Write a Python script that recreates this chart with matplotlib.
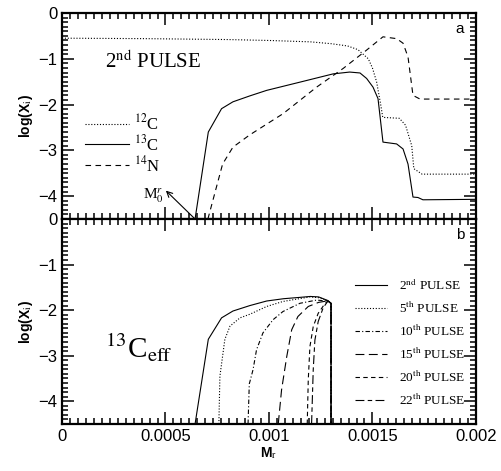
import numpy as np
import matplotlib
matplotlib.use('Agg')
import matplotlib.pyplot as plt
from matplotlib.ticker import AutoMinorLocator, FixedFormatter, FixedLocator

plt.rcParams['mathtext.fontset'] = 'stix'
plt.rcParams['font.family'] = ['Liberation Sans', 'DejaVu Sans']

# ---- panel a : 2nd pulse abundances ----
m_c12 = [0.0, 0.0004, 0.0008, 0.001, 0.0012, 0.0013, 0.00138, 0.00143, 0.00148, 0.0015,
         0.00152, 0.00154, 0.00155, 0.00163, 0.00166, 0.00169, 0.0017, 0.00174, 0.002]
x_c12 = [-0.55, -0.56, -0.58, -0.60, -0.63, -0.67, -0.72, -0.80, -1.0, -1.2,
         -1.5, -2.0, -2.28, -2.3, -2.45, -2.9, -3.4, -3.52, -3.52]

m_c13 = [0.000643, 0.000707, 0.000771, 0.000826, 0.000908, 0.000989, 0.00115, 0.00131,
         0.00139, 0.00144, 0.001472, 0.001503, 0.001527, 0.001551, 0.001617, 0.001648,
         0.001672, 0.001696, 0.00172, 0.001744, 0.002]
x_c13 = [-4.5, -2.6, -2.09, -1.94, -1.81, -1.69, -1.51, -1.33,
         -1.29, -1.31, -1.43, -1.62, -1.87, -2.82, -2.86, -2.97,
         -3.3, -4.02, -4.03, -4.08, -4.07]

m_n14 = [0.000705, 0.000776, 0.000826, 0.000908, 0.001068, 0.00123, 0.001359, 0.001472,
         0.001551, 0.001617, 0.001648, 0.001672, 0.001696, 0.00173, 0.002]
x_n14 = [-4.5, -3.3, -2.93, -2.66, -2.2, -1.62, -1.21, -0.81,
         -0.52, -0.56, -0.66, -0.96, -1.8, -1.88, -1.88]

# ---- panel b : effective 13C pocket, successive pulses ----
pulses = ['2nd', '5th', '10th', '15th', '20th', '22th']
m_p2 = [0.000643, 0.000707, 0.000771, 0.000826, 0.000908, 0.000989, 0.00107, 0.00115, 0.0012, 0.00124, 0.001285, 0.0013, 0.0013]
x_p2 = [-4.5, -2.64, -2.17, -2.02, -1.9, -1.8, -1.75, -1.72, -1.7, -1.71, -1.79, -1.85, -4.5]
m_p5 = [0.000758, 0.000763, 0.000787, 0.000812, 0.00086, 0.000908, 0.000989, 0.001068, 0.001198, 0.001246, 0.001285, 0.0013, 0.0013]
x_p5 = [-4.5, -3.45, -2.64, -2.35, -2.17, -2.09, -1.92, -1.81, -1.71, -1.73, -1.8, -1.85, -4.5]
m_p10 = [0.000899, 0.000905, 0.000923, 0.00094, 0.000971, 0.00102, 0.001068, 0.00115, 0.00123, 0.001285, 0.0013, 0.0013]
x_p10 = [-4.5, -3.62, -3.31, -2.87, -2.5, -2.21, -2.03, -1.85, -1.78, -1.8, -1.85, -4.5]
m_p15 = [0.001045, 0.001061, 0.001086, 0.00111, 0.00114, 0.00119, 0.00124, 0.00128, 0.0013, 0.0013]
x_p15 = [-4.5, -3.75, -3.02, -2.43, -2.14, -1.92, -1.83, -1.8, -1.85, -4.5]
m_p20 = [0.001185, 0.00119, 0.001198, 0.001214, 0.001238, 0.00127, 0.001285, 0.0013, 0.0013]
x_p20 = [-4.5, -3.53, -2.8, -2.36, -2.07, -1.86, -1.8, -1.85, -4.5]
m_p22 = [0.001206, 0.001214, 0.001222, 0.001238, 0.001262, 0.001285, 0.0013, 0.0013]
x_p22 = [-4.5, -3.31, -2.66, -2.25, -1.95, -1.8, -1.85, -4.5]

m_ticks = [0, 0.0005, 0.001, 0.0015, 0.002]
m_labels = ['0', '0.0005', '0.001', '0.0015', '0.002']
y_ticks = [0, -1, -2, -3, -4]
y_labels = ['0', '\u22121', '\u22122', '\u22123', '\u22124']

fig = plt.figure(figsize=(5.02, 4.71), dpi=100)
axa = fig.add_axes([0.1235, 0.535, 0.8245, 0.4374])
axb = fig.add_axes([0.1235, 0.0998, 0.8245, 0.4352])

lw = 0.8
serif = ['Liberation Serif', 'DejaVu Serif']

la, = axa.plot(m_c12, x_c12, color='k', lw=lw, ls=(0, (1, 1.6)))
lb, = axa.plot(m_c13, x_c13, color='k', lw=lw, ls='-')
lc, = axa.plot(m_n14, x_n14, color='k', lw=lw, ls=(0, (5, 4)))
axa.legend([la, lb, lc], ['$^{12}$C', '$^{13}$C', '$^{14}$N'], loc='upper left',
           bbox_to_anchor=(0.02, 0.585), frameon=False, handlelength=2.6,
           handletextpad=0.3, labelspacing=0.05, prop={'family': serif, 'size': 12})

axa.text(0.104, 0.733, '2$^{\\rm nd}$ PULSE', transform=axa.transAxes, fontsize=15,
         family=serif, va='baseline')
axa.text(0.961, 0.92, 'a', transform=axa.transAxes, fontsize=11, ha='center', va='center')
axa.annotate('', xy=(0.000502, -3.88), xytext=(0.000643, -4.5),
             arrowprops=dict(arrowstyle='->', color='k', lw=0.8, shrinkA=0, shrinkB=0))
axa.text(0.000493, -3.98, 'M$_0^r$', fontsize=11, family=serif, ha='right', va='center')

styles = ['-', (0, (1, 1.6)), (0, (4, 2, 1, 2)), (0, (8, 4)), (0, (4, 3)), (0, (8, 3, 4, 3))]
data_b = [(m_p2, x_p2), (m_p5, x_p5), (m_p10, x_p10), (m_p15, x_p15), (m_p20, x_p20), (m_p22, x_p22)]
hb = []
for (m, x), st in zip(data_b, styles):
    h, = axb.plot(m, x, color='k', lw=lw, ls=st)
    hb.append(h)
labs = [p[:-2] + '$^{\\rm ' + p[-2:] + '}$ PULSE' for p in pulses]
axb.legend(hb, labs, loc='upper left', bbox_to_anchor=(0.68, 0.775), frameon=False,
           handlelength=2.4, handletextpad=0.9, labelspacing=0.6,
           prop={'family': serif, 'size': 9.5})

axb.text(0.104, 0.322, '$^{13}$C$_{\\rm eff}$', transform=axb.transAxes, fontsize=21,
         family=serif, va='baseline')
axb.text(0.961, 0.92, 'b', transform=axb.transAxes, fontsize=11, ha='center', va='center')

for ax in (axa, axb):
    ax.set_xlim(0, 0.002)
    ax.set_ylim(-4.5, 0)
    ax.xaxis.set_major_locator(FixedLocator(m_ticks))
    ax.xaxis.set_minor_locator(AutoMinorLocator(13))
    ax.yaxis.set_major_locator(FixedLocator(y_ticks))
    ax.yaxis.set_major_formatter(FixedFormatter(y_labels))
    ax.yaxis.set_minor_locator(AutoMinorLocator(10))
    ax.tick_params(which='both', direction='in', top=True, right=True, width=1.1, labelsize=12)
    ax.tick_params(which='major', length=8.5)
    ax.tick_params(which='minor', length=4.3)
    for s in ax.spines.values():
        s.set_linewidth(1.6)
    ax.set_ylabel('log(X$_{\\rm i}$)', fontsize=10, fontweight='bold', labelpad=2)

axa.tick_params(labelbottom=False)
axb.xaxis.set_major_formatter(FixedFormatter(m_labels))
axb.set_xlabel('M$_{\\rm r}$', fontsize=10, fontweight='bold', labelpad=1)

fig.savefig('out.png', dpi=100)
